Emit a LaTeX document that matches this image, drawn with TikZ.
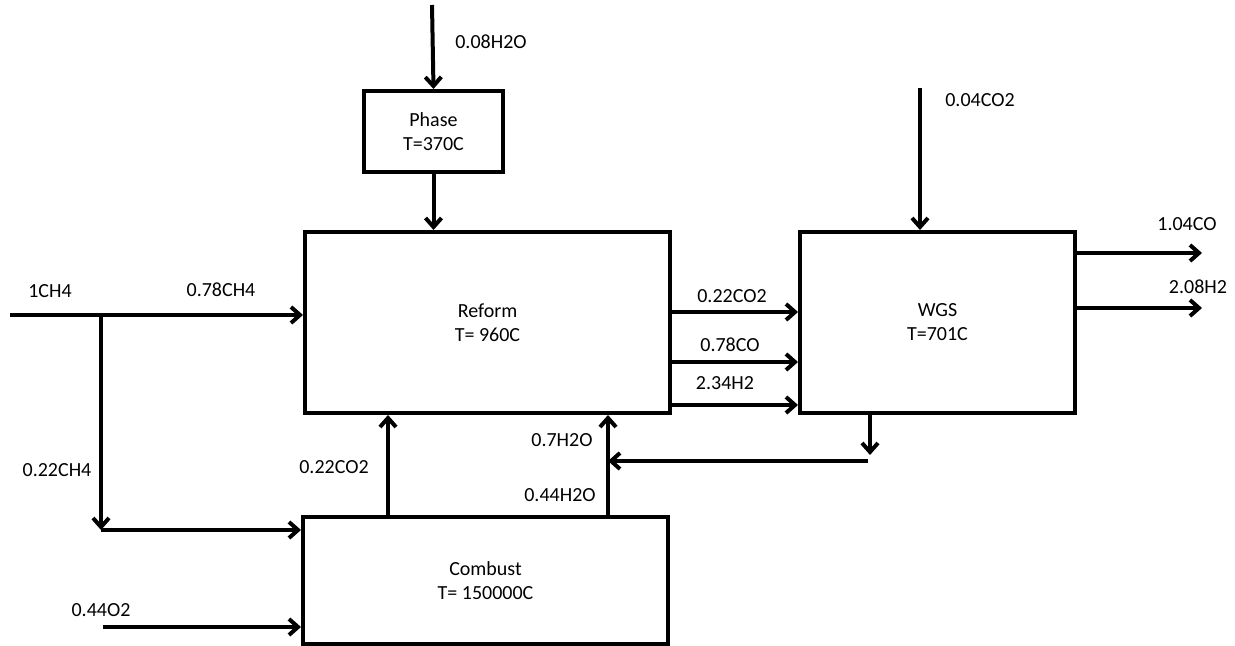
\documentclass[tikz,border=0pt]{standalone}
\usepackage{fontspec}
\setmainfont{Carlito}
\usetikzlibrary{arrows.meta,positioning}
\definecolor{flowline}{RGB}{0,0,0}

\begin{document}
\begin{tikzpicture}[
    x=0.5pt, y=-0.5pt,
    unit/.style={rectangle, draw=flowline, line width=2pt, fill=white,
                 align=center, font=\fontsize{10}{12}\selectfont, inner sep=0pt},
    lbl/.style={font=\fontsize{10}{12}\selectfont, inner sep=0pt},
    flow/.style={-{Straight Barb[length=4.5pt, width=8pt]}, line width=2pt, flowline}
]
\useasboundingbox (0,0) rectangle (1235,646);

\node[unit, minimum width=69.5pt, minimum height=40.5pt] (phase) at (433.5,131.5) {Phase\\T=370C};
\node[unit, minimum width=182.5pt, minimum height=90.5pt] (reform) at (487.5,322.5) {Reform\\T= 960C};
\node[unit, minimum width=137.5pt, minimum height=90.5pt] (wgs) at (937.5,322.5) {WGS\\T=701C};
\node[unit, minimum width=182.5pt, minimum height=63.5pt] (combust) at (485.5,580.5) {Combust\\T= 150000C};

\coordinate (waterin) at (432,5);
\coordinate (co2in) at (920,88);
\coordinate (coout) at (1202,253);
\coordinate (h2out) at (1202,308);
\coordinate (feed) at (10,315);
\coordinate (split) at (101,315);
\coordinate (splitend) at (101,530);
\coordinate (oxin) at (103,627);
\coordinate (wgsdrop) at (870,455);
\coordinate (recycle) at (868,461);
\coordinate (co2up) at (388,0);
\coordinate (h2oup) at (608,0);

\draw[flow] (waterin) -- (phase.north);
\draw[flow] (phase.south) -- (phase.south |- reform.north);
\draw[flow] (co2in) -- (co2in |- wgs.north);
\draw[flow] (wgs.east |- coout) -- (coout);
\draw[flow] (wgs.east |- h2out) -- (h2out);
\draw[flow] (reform.east |- 0,312) -- (wgs.west |- 0,312);
\draw[flow] (reform.east |- 0,362) -- (wgs.west |- 0,362);
\draw[flow] (reform.east |- 0,405) -- (wgs.west |- 0,405);
\draw[flow] (wgsdrop |- wgs.south) -- (wgsdrop);
\draw[flow] (recycle) -- (recycle -| h2oup);
\draw[flow] (combust.north -| h2oup) -- (reform.south -| h2oup);
\draw[flow] (combust.north -| co2up) -- (reform.south -| co2up);
\draw[flow] (feed) -- (feed -| reform.west);
\draw[flow] (split) -- (splitend);
\draw[flow] (splitend) -- (splitend -| combust.west);
\draw[flow] (oxin) -- (oxin -| combust.west);

\node[lbl] (lwater) at (491,42) {0.08H2O};
\node[lbl] (lco2in) at (980,100) {0.04CO2};
\node[lbl] (lcoout) at (1187,224) {1.04CO};
\node[lbl] (lh2out) at (1198,287) {2.08H2};
\node[lbl] (lco2) at (732,296) {0.22CO2};
\node[lbl] (lco) at (730,345) {0.78CO};
\node[lbl] (lh2) at (725,383) {2.34H2};
\node[lbl] (lh2oa) at (562,440) {0.7H2O};
\node[lbl] (lh2ob) at (560,495) {0.44H2O};
\node[lbl] (lco2b) at (334,467) {0.22CO2};
\node[lbl] (lfeed) at (50,291) {1CH4};
\node[lbl] (lfeedr) at (221,290) {0.78CH4};
\node[lbl] (lfeedc) at (57,470) {0.22CH4};
\node[lbl] (lox) at (101,610) {0.44O2};
\end{tikzpicture}
\end{document}
